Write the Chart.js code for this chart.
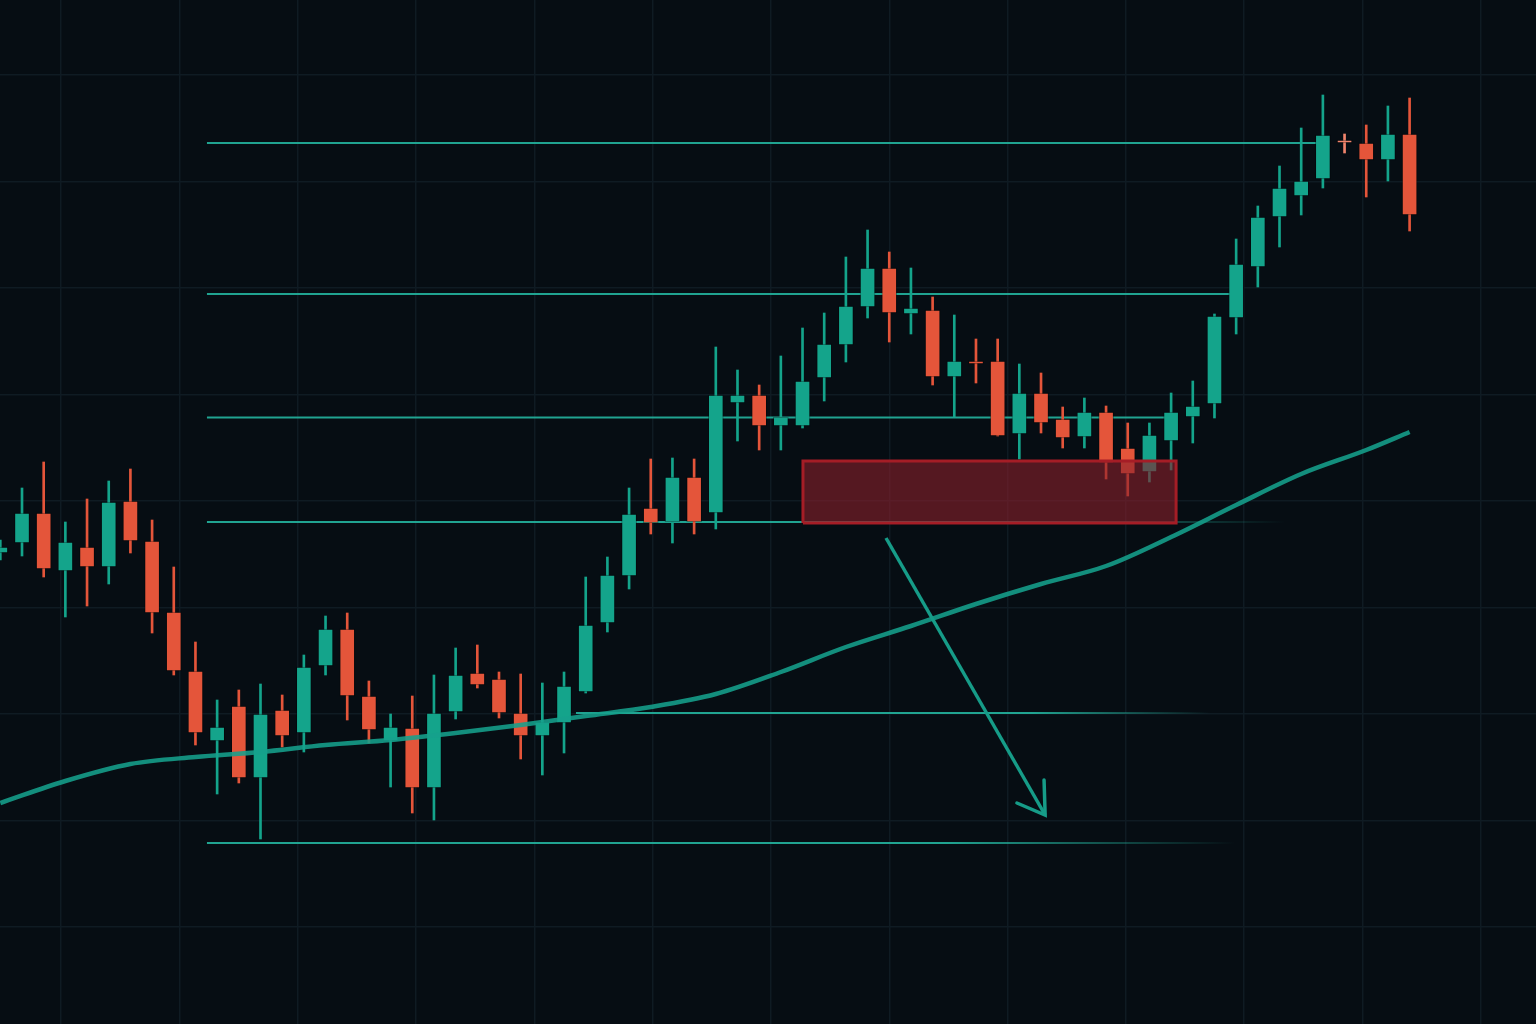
<!DOCTYPE html>
<html lang="en">
<head>
    <meta charset="UTF-8">
    <title>Candles</title>
    <script src="https://cdn.jsdelivr.net/npm/chart.js"></script>
    <style>
        html, body { margin: 0; padding: 0; background: #060d13; overflow: hidden; }
        #wrap { width: 1536px; height: 1024px; }
    </style>
</head>
<body>
    <div id="wrap">
        <canvas id="myChart" width="1536" height="1024"></canvas>
    </div>

    <script>
        // candle index 0 is the half-cut one on the left edge
        var openP  = [47.1, 48.1, 51.1, 45.3, 47.7, 45.7, 52.3, 48.3, 41.2, 35.3,
                      28.3, 31.8, 24.6, 31.4, 29.1, 35.8, 39.5, 32.8, 28.3, 29.6,
                      23.6, 31.2, 35.1, 34.5, 31.1, 28.8, 30.1, 33.2, 40.1, 44.8,
                      51.6, 50.2, 54.7, 51.1, 62.1, 62.9, 59.8, 59.8, 64.6, 67.9,
                      71.7, 75.6, 71.0, 71.4, 64.7, 66.3, 66.3, 59.0, 63.1, 60.5,
                      58.7, 61.2, 57.6, 55.2, 58.3, 60.7, 62.0, 70.6, 75.7, 80.7,
                      82.8, 84.5, 88.3, 88.1, 86.4, 89.0];
        var highP  = [48.4, 53.6, 56.2, 50.2, 52.5, 54.3, 55.5, 50.4, 45.7, 38.2,
                      32.4, 33.4, 34.0, 32.9, 36.9, 40.8, 41.1, 34.3, 31.0, 32.8,
                      34.9, 37.6, 37.9, 35.2, 35.0, 34.1, 35.2, 44.7, 46.7, 53.6,
                      56.5, 56.6, 56.5, 67.7, 65.4, 63.9, 66.8, 69.6, 71.1, 76.7,
                      79.4, 77.2, 75.6, 72.7, 70.9, 68.5, 68.5, 66.0, 65.1, 61.7,
                      62.6, 61.8, 60.1, 60.1, 63.1, 64.3, 71.0, 78.5, 81.8, 85.8,
                      89.6, 92.9, 89.0, 89.9, 91.8, 92.6];
        var lowP   = [46.4, 46.8, 44.7, 40.7, 41.8, 44.0, 47.1, 39.1, 34.9, 27.9,
                      23.0, 24.1, 18.5, 27.7, 27.2, 34.9, 30.4, 28.1, 23.7, 21.1,
                      20.4, 30.5, 33.6, 30.6, 26.5, 24.9, 27.1, 33.1, 39.2, 43.5,
                      49.0, 48.1, 49.0, 49.5, 58.3, 57.4, 57.4, 59.6, 62.3, 66.2,
                      70.6, 68.2, 69.0, 63.9, 60.7, 64.1, 58.8, 56.5, 59.1, 57.6,
                      57.6, 54.5, 52.8, 54.2, 55.4, 58.1, 60.6, 69.0, 73.7, 77.7,
                      80.9, 83.6, 87.1, 82.7, 84.3, 79.3];
        var closeP = [47.7, 51.1, 45.5, 48.2, 45.7, 52.2, 48.3, 41.1, 35.3, 29.1,
                      29.7, 24.6, 31.0, 28.8, 35.7, 39.5, 32.8, 29.4, 29.7, 23.6,
                      31.1, 34.9, 33.9, 31.1, 28.8, 30.2, 33.8, 39.9, 44.9, 51.0,
                      50.1, 54.7, 50.2, 62.9, 62.9, 59.8, 60.7, 64.3, 68.0, 71.8,
                      75.6, 71.1, 71.6, 64.7, 66.3, 66.0, 58.8, 63.1, 60.1, 58.6,
                      61.2, 56.1, 55.0, 58.9, 61.2, 61.8, 70.8, 76.0, 80.7, 83.6,
                      84.3, 88.9, 88.1, 86.4, 89.0, 80.9];

        // moving average, read at every third candle
        var maIndex = [0, 3, 6, 9, 12, 15, 18, 21, 24, 27, 30, 33, 36, 39, 42, 45, 48, 51, 54, 57, 60, 63, 65];
        var maValue = [22.1, 24.3, 26.0, 26.7, 27.2, 27.9, 28.4, 29.1, 29.9, 30.8, 31.7, 33.0,
                       35.2, 37.7, 39.8, 42.0, 44.0, 45.8, 48.7, 51.9, 55.0, 57.4, 59.2];

        // horizontal levels: price, from / to candle index, fades out on the right
        var levelPrice = [88.1, 73.0, 60.65, 50.2, 31.1, 18.1];
        var levelFrom  = [9.53, 9.53, 9.53, 9.53, 26.55, 9.53];
        var levelTo    = [60.78, 56.86, 53.72, 59.26, 55.8, 56.95];
        var levelFade  = [false, false, false, true, true, true];

        // red zone and arrow
        var zoneX = [37.02, 54.23];
        var zoneY = [50.1, 56.3];
        var arrowX = [40.85, 48.19];
        var arrowY = [48.6, 20.9];
        var headX = [46.89, 48.19, 48.14];
        var headY = [22.1, 20.9, 24.4];

        // background grid positions
        var gridX = [2.8, 8.26, 13.71, 19.17, 24.63, 30.08, 35.54, 41.0, 46.46, 51.91, 57.37, 62.83, 68.28];
        var gridY = [9.7, 20.35, 31.0, 41.65, 52.3, 62.95, 73.6, 84.25, 94.9];

        var TEAL = '#14a48b';
        var RED = '#e4553a';
        var LEVEL = 'rgba(34,172,152,0.95)';

        var idx = openP.map(function (v, i) { return i; });
        var bull = idx.map(function (i) { return closeP[i] >= openP[i]; });
        var candleColor = idx.map(function (i) {
            if (i === 62) return '#f0846c';
            return bull[i] ? TEAL : RED;
        });

        function levelColor(k) {
            return function (ctx) {
                var ch = ctx.chart;
                var xs = ch.scales && ch.scales.x;
                if (!levelFade[k] || !xs) return LEVEL;
                var a = xs.getPixelForValue(levelFrom[k]);
                var b = xs.getPixelForValue(levelTo[k]);
                if (!isFinite(a) || !isFinite(b)) return LEVEL;
                var g = ch.ctx.createLinearGradient(a, 0, b, 0);
                g.addColorStop(0, LEVEL);
                g.addColorStop(0.72, LEVEL);
                g.addColorStop(1, 'rgba(34,172,152,0)');
                return g;
            };
        }

        var datasets = [];

        levelPrice.forEach(function (p, k) {
            datasets.push({
                type: 'line',
                data: [{x: levelFrom[k], y: p}, {x: levelTo[k], y: p}],
                borderColor: levelColor(k),
                borderWidth: 2,
                pointRadius: 0,
                fill: false,
                order: 9
            });
        });

        datasets.push({
            type: 'bar',
            data: idx.map(function (i) { return {x: i, y: [lowP[i], highP[i]]}; }),
            backgroundColor: candleColor,
            barThickness: 2,
            grouped: false,
            order: 8
        });
        datasets.push({
            type: 'bar',
            data: idx.map(function (i) { return {x: i, y: [openP[i], closeP[i]]}; }),
            backgroundColor: candleColor,
            borderColor: 'rgba(0,0,0,0.35)',
            borderWidth: 1,
            borderSkipped: false,
            barThickness: 15,
            minBarLength: 3,
            grouped: false,
            order: 7
        });

        datasets.push({
            type: 'line',
            data: maIndex.map(function (x, i) { return {x: x, y: maValue[i]}; }),
            borderColor: 'rgba(22,160,140,0.88)',
            borderWidth: 4.5,
            pointRadius: 0,
            cubicInterpolationMode: 'monotone',
            fill: false,
            order: 5
        });

        // zone fill + outline
        datasets.push({
            type: 'line',
            data: [{x: zoneX[0], y: zoneY[1]}, {x: zoneX[1], y: zoneY[1]}],
            borderWidth: 0,
            borderColor: 'rgba(0,0,0,0)',
            backgroundColor: 'rgba(139,31,44,0.6)',
            pointRadius: 0,
            fill: {target: {value: zoneY[0]}},
            order: 3
        });
        datasets.push({
            type: 'line',
            data: [{x: zoneX[0], y: zoneY[0]}, {x: zoneX[0], y: zoneY[1]}, {x: zoneX[1], y: zoneY[1]},
                   {x: zoneX[1], y: zoneY[0]}, {x: zoneX[0], y: zoneY[0]}],
            borderColor: '#a51d26',
            borderWidth: 3,
            pointRadius: 0,
            fill: false,
            order: 2
        });

        datasets.push({
            type: 'line',
            data: arrowX.map(function (x, i) { return {x: x, y: arrowY[i]}; }),
            borderColor: '#169c88',
            borderWidth: 3.5,
            pointRadius: 0,
            fill: false,
            order: 1
        });
        datasets.push({
            type: 'line',
            data: headX.map(function (x, i) { return {x: x, y: headY[i]}; }),
            borderColor: '#169c88',
            borderWidth: 3.5,
            borderCapStyle: 'round',
            borderJoinStyle: 'miter',
            pointRadius: 0,
            fill: false,
            order: 1
        });

        var bgPlugin = {
            id: 'bg',
            beforeDraw: function (chart) {
                var c = chart.ctx;
                c.save();
                c.fillStyle = '#060d13';
                c.fillRect(0, 0, chart.width, chart.height);
                c.restore();
            }
        };

        var ctx = document.getElementById('myChart').getContext('2d');
        var myChart = new Chart(ctx, {
            type: 'bar',
            data: { datasets: datasets },
            options: {
                responsive: false,
                animation: false,
                devicePixelRatio: 1,
                layout: { padding: 0 },
                plugins: {
                    legend: { display: false },
                    tooltip: { enabled: false }
                },
                scales: {
                    x: {
                        type: 'linear',
                        min: -0.015,
                        max: 70.83,
                        offset: false,
                        afterBuildTicks: function (axis) {
                            axis.ticks = gridX.map(function (v) { return {value: v}; });
                        },
                        ticks: { display: false },
                        grid: { color: '#0f1b23', lineWidth: 1.5, drawTicks: false, offset: false },
                        border: { display: false }
                    },
                    y: {
                        type: 'linear',
                        min: 0,
                        max: 102.4,
                        afterBuildTicks: function (axis) {
                            axis.ticks = gridY.map(function (v) { return {value: v}; });
                        },
                        ticks: { display: false },
                        grid: { color: '#0f1b23', lineWidth: 1.5, drawTicks: false, offset: false },
                        border: { display: false }
                    }
                }
            },
            plugins: [bgPlugin]
        });
    </script>
</body>
</html>
